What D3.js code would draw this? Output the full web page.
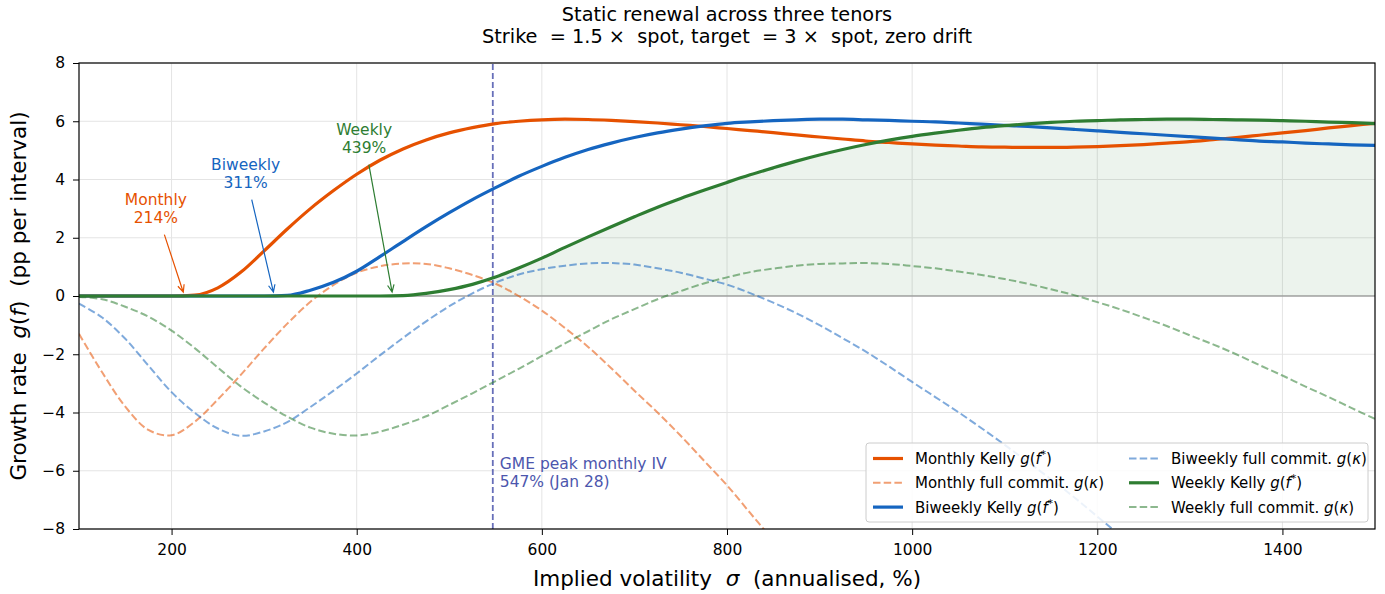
<!DOCTYPE html>
<html>
<head>
<meta charset="utf-8">
<title>Static renewal across three tenors</title>
<script src="https://cdn.jsdelivr.net/npm/d3@7/dist/d3.min.js"></script>
<style>
  body { margin: 0; background: #fff; }
  text { font-family: "DejaVu Sans", sans-serif; }
</style>
</head>
<body>
<div id="chart"></div>
<script>
// implied volatility grid (annualised, %)
const sigmaGrid = [100, 125, 150, 175, 200, 225, 250, 275, 300, 325, 350, 375, 400, 425, 450,
  475, 500, 525, 550, 575, 600, 625, 650, 675, 700, 725, 750, 775, 800, 825, 850, 875, 900,
  925, 950, 975, 1000, 1025, 1050, 1075, 1100, 1125, 1150, 1175, 1200, 1225, 1250, 1275, 1300,
  1325, 1350, 1375, 1400, 1425, 1450, 1475, 1500];

// Kelly growth g(f*), pp per interval
const monthlyKelly = [0, 0, 0, 0, 0, 0.03, 0.28, 0.82, 1.55, 2.3, 3.0, 3.62, 4.18, 4.66, 5.05,
  5.36, 5.6, 5.78, 5.92, 6.0, 6.05, 6.07, 6.06, 6.03, 5.99, 5.94, 5.88, 5.82, 5.75, 5.68,
  5.61, 5.53, 5.46, 5.39, 5.32, 5.27, 5.22, 5.18, 5.15, 5.12, 5.11, 5.10, 5.10, 5.11, 5.13,
  5.16, 5.2, 5.25, 5.3, 5.37, 5.44, 5.52, 5.6, 5.68, 5.77, 5.85, 5.93];
const biweeklyKelly = [0, 0, 0, 0, 0, 0, 0, 0, 0, 0.02, 0.2, 0.47, 0.85, 1.35, 1.87,
  2.38, 2.86, 3.31, 3.72, 4.11, 4.45, 4.76, 5.03, 5.25, 5.44, 5.6, 5.73, 5.84, 5.93, 5.98,
  6.02, 6.05, 6.07, 6.07, 6.05, 6.03, 6.0, 5.98, 5.94, 5.9, 5.86, 5.82, 5.77, 5.72, 5.67,
  5.62, 5.57, 5.52, 5.47, 5.42, 5.37, 5.32, 5.29, 5.25, 5.22, 5.19, 5.17];
const weeklyKelly = [0, 0, 0, 0, 0, 0, 0, 0, 0, 0, 0, 0, 0, 0, 0.015,
  0.09, 0.22, 0.4, 0.65, 0.96, 1.3, 1.67, 2.03, 2.38, 2.72, 3.05, 3.35, 3.63, 3.9, 4.16,
  4.4, 4.63, 4.84, 5.03, 5.2, 5.35, 5.48, 5.59, 5.69, 5.78, 5.85, 5.91, 5.96, 6.0, 6.02,
  6.05, 6.06, 6.07, 6.07, 6.06, 6.05, 6.04, 6.02, 6.0, 5.97, 5.95, 5.92];

// full-commitment growth g(kappa); these run off the bottom of the axes
const monthlyFull = [-1.3, -2.62, -3.8, -4.6, -4.78, -4.32, -3.55, -2.7, -1.8, -0.95, -0.2,
  0.38, 0.8, 1.02, 1.12, 1.1, 0.95, 0.72, 0.42, 0.0, -0.5, -1.1, -1.75, -2.48, -3.25, -4.0,
  -4.8, -5.65, -6.5, -7.45, -8.4, -9.4, -10.4];
const biweeklyFull = [-0.26, -0.74, -1.47, -2.39, -3.3, -4.01, -4.55, -4.8, -4.65, -4.33,
  -3.81, -3.25, -2.66, -2.04, -1.44, -0.87, -0.35, 0.09, 0.46, 0.74,
  0.92, 1.04, 1.12, 1.13, 1.08, 0.95, 0.8, 0.6, 0.39, 0.1,
  -0.23, -0.59, -1.0, -1.45, -1.91, -2.42, -2.95, -3.47, -3.99, -4.54,
  -5.11, -5.7, -6.29, -6.91, -7.57, -8.23, -8.9, -9.6];
const weeklyFull = [-0.03, -0.11, -0.37, -0.71, -1.19, -1.79, -2.46, -3.11, -3.66, -4.14,
  -4.52, -4.73, -4.79, -4.66, -4.42, -4.13, -3.74, -3.34, -2.92, -2.5,
  -2.06, -1.63, -1.21, -0.8, -0.45, -0.11, 0.17, 0.43, 0.64, 0.82,
  0.94, 1.04, 1.1, 1.12, 1.13, 1.1, 1.03, 0.95, 0.84, 0.72,
  0.58, 0.42, 0.23, 0.03, -0.21, -0.46, -0.74, -1.03, -1.35, -1.66,
  -2.0, -2.37, -2.73, -3.11, -3.47, -3.85, -4.22];

const tenors = ["Monthly", "Biweekly", "Weekly"];
const breakEven = [214, 311, 439];      // sigma where Kelly turns positive
const labelSigma = [183, 280, 408];     // annotation text centre
const labelG = [3.0, 4.2, 5.4];
const gmePeak = 547;

const xTicks = [200, 400, 600, 800, 1000, 1200, 1400];
const yTicks = [-8, -6, -4, -2, 0, 2, 4, 6, 8];

const width = 1385, height = 594;
const margin = {top: 63, right: 10, bottom: 65, left: 79};
const colors = {Monthly: "#e65100", Biweekly: "#1565c0", Weekly: "#2e7d32"};
const gmeColor = "#4c56ad";

const x = d3.scaleLinear().domain([100, 1500]).range([margin.left, width - margin.right]);
const y = d3.scaleLinear().domain([-8, 8]).range([height - margin.bottom, margin.top]);

const toPoints = vals => vals.map((v, i) => [sigmaGrid[i], v]);
const series = [
  {tenor: "Monthly", kelly: toPoints(monthlyKelly), full: toPoints(monthlyFull)},
  {tenor: "Biweekly", kelly: toPoints(biweeklyKelly), full: toPoints(biweeklyFull)},
  {tenor: "Weekly", kelly: toPoints(weeklyKelly), full: toPoints(weeklyFull)}
];

const svg = d3.select("#chart").append("svg")
  .attr("width", width).attr("height", height);

const defs = svg.append("defs");
defs.append("clipPath").attr("id", "plot").append("rect")
  .attr("x", x(100)).attr("y", y(8))
  .attr("width", x(1500) - x(100)).attr("height", y(-8) - y(8));
defs.append("clipPath").attr("id", "afterPeak").append("rect")
  .attr("x", x(gmePeak)).attr("y", y(8))
  .attr("width", x(1500) - x(gmePeak)).attr("height", y(-8) - y(8));

// grid
svg.append("g").selectAll("line").data(xTicks).join("line")
  .attr("x1", d => x(d)).attr("x2", d => x(d))
  .attr("y1", y(-8)).attr("y2", y(8))
  .attr("stroke", "#e4e4e4").attr("stroke-width", 1);
svg.append("g").selectAll("line").data(yTicks).join("line")
  .attr("x1", x(100)).attr("x2", x(1500))
  .attr("y1", d => y(d)).attr("y2", d => y(d))
  .attr("stroke", "#e4e4e4").attr("stroke-width", 1);

const plot = svg.append("g").attr("clip-path", "url(#plot)");

// shaded positive-growth region for the weekly tenor past the GME peak
plot.append("path")
  .datum(series[2].kelly)
  .attr("clip-path", "url(#afterPeak)")
  .attr("fill", colors.Weekly).attr("fill-opacity", 0.09)
  .attr("d", d3.area().x(d => x(d[0])).y0(y(0)).y1(d => y(d[1])).curve(d3.curveMonotoneX));

// zero line
plot.append("line")
  .attr("x1", x(100)).attr("x2", x(1500)).attr("y1", y(0)).attr("y2", y(0))
  .attr("stroke", "#808080").attr("stroke-width", 1.2);

// GME peak IV marker
plot.append("line")
  .attr("x1", x(gmePeak)).attr("x2", x(gmePeak)).attr("y1", y(-8)).attr("y2", y(8))
  .attr("stroke", gmeColor).attr("stroke-width", 1.8).attr("stroke-opacity", 0.85)
  .attr("stroke-dasharray", "6,3");

const kellyLine = d3.line().x(d => x(d[0])).y(d => y(d[1])).curve(d3.curveMonotoneX);
const fullLine = d3.line().x(d => x(d[0])).y(d => y(d[1])).curve(d3.curveCatmullRom);

series.forEach(s => {
  plot.append("path").datum(s.kelly)
    .attr("fill", "none").attr("stroke", colors[s.tenor])
    .attr("stroke-width", 3.2).attr("stroke-linecap", "square")
    .attr("d", kellyLine);
  plot.append("path").datum(s.full)
    .attr("fill", "none").attr("stroke", colors[s.tenor])
    .attr("stroke-opacity", 0.55).attr("stroke-width", 2)
    .attr("stroke-dasharray", "7.5,3.2")
    .attr("d", fullLine);
});

// break-even annotations
tenors.forEach((t, i) => {
  const cx = x(labelSigma[i]), cy = y(labelG[i]);
  const tx = x(breakEven[i]), ty = y(0);
  const c = colors[t];
  const txt = svg.append("text").attr("text-anchor", "middle")
    .attr("font-size", 15.5).attr("fill", c);
  txt.append("tspan").attr("x", cx).attr("y", cy - 4).text(t);
  txt.append("tspan").attr("x", cx).attr("y", cy + 14.5).text(breakEven[i] + "%");

  const dx = tx - cx, dy = ty - cy;
  const len = Math.hypot(dx, dy);
  const ux = dx / len, uy = dy / len;
  const sx = cx + dx * (26 / dy), sy = cy + 26;
  const ex = tx - ux * 4, ey = ty - uy * 4;
  const head = 8, ang = 0.42;
  const back = Math.atan2(-uy, -ux);
  const h1 = [ex + head * Math.cos(back + ang), ey + head * Math.sin(back + ang)];
  const h2 = [ex + head * Math.cos(back - ang), ey + head * Math.sin(back - ang)];
  svg.append("path")
    .attr("d", `M${sx},${sy}L${ex},${ey}M${h1[0]},${h1[1]}L${ex},${ey}L${h2[0]},${h2[1]}`)
    .attr("fill", "none").attr("stroke", c).attr("stroke-width", 1.2);
});

// GME label
const gme = svg.append("text").attr("font-size", 15.5).attr("fill", gmeColor);
gme.append("tspan").attr("x", x(gmePeak) + 7).attr("y", y(-5.95)).text("GME peak monthly IV");
gme.append("tspan").attr("x", x(gmePeak) + 7).attr("y", y(-5.95) + 18).text(gmePeak + "% (Jan 28)");

// axes
const xAxis = svg.append("g")
  .attr("transform", `translate(0,${y(-8)})`)
  .call(d3.axisBottom(x).tickValues(xTicks).tickSize(6).tickFormat(d3.format("d")));
xAxis.select(".domain").remove();
xAxis.selectAll("text").attr("y", 26).attr("dy", 0)
  .attr("font-size", 15.5).attr("font-family", "DejaVu Sans").attr("fill", "#000");
xAxis.selectAll("line").attr("stroke", "#000");

const yAxis = svg.append("g")
  .attr("transform", `translate(${x(100)},0)`)
  .call(d3.axisLeft(y).tickValues(yTicks).tickSize(6).tickPadding(8));
yAxis.select(".domain").remove();
yAxis.selectAll("text").attr("font-size", 15.5).attr("font-family", "DejaVu Sans").attr("fill", "#000");
yAxis.selectAll("line").attr("stroke", "#000");

// frame
svg.append("rect")
  .attr("x", x(100)).attr("y", y(8))
  .attr("width", x(1500) - x(100)).attr("height", y(-8) - y(8))
  .attr("fill", "none").attr("stroke", "#000").attr("stroke-width", 1.2);

// text with simple math parts
function mathText(sel, parts) {
  let raised = false;
  parts.forEach(p => {
    const ts = sel.append("tspan").text(p.t);
    if (p.i) ts.style("font-style", "italic");
    if (p.sup) { ts.attr("dy", -6).attr("font-size", "70%"); raised = true; }
    else if (raised) { ts.attr("dy", 6); raised = false; }
  });
}

// axis labels
const xLab = svg.append("text").attr("x", (x(100) + x(1500)) / 2).attr("y", 586)
  .attr("text-anchor", "middle").attr("font-size", 21.5).style("white-space", "pre");
mathText(xLab, [{t: "Implied volatility  "}, {t: "σ", i: true}, {t: "  (annualised, %)"}]);

const yLab = svg.append("text")
  .attr("transform", `translate(26,${(y(8) + y(-8)) / 2}) rotate(-90)`)
  .attr("text-anchor", "middle").attr("font-size", 21.5).style("white-space", "pre");
mathText(yLab, [{t: "Growth rate  "}, {t: "g", i: true}, {t: "("}, {t: "f", i: true},
  {t: ")  (pp per interval)"}]);

// title
const title = svg.append("text").attr("text-anchor", "middle").attr("font-size", 19.3)
  .style("white-space", "pre");
title.append("tspan").attr("x", (x(100) + x(1500)) / 2).attr("y", 21)
  .text("Static renewal across three tenors");
title.append("tspan").attr("x", (x(100) + x(1500)) / 2).attr("y", 43)
  .text("Strike  = 1.5 ×  spot, target  = 3 ×  spot, zero drift");

// legend
const legendItems = [];
tenors.forEach(t => {
  legendItems.push({tenor: t, kind: "kelly"});
  legendItems.push({tenor: t, kind: "full"});
});
const lg = svg.append("g");
lg.append("rect").attr("x", 866).attr("y", 443).attr("width", 502).attr("height", 79)
  .attr("rx", 3).attr("fill", "#fff").attr("fill-opacity", 0.85)
  .attr("stroke", "#cccccc").attr("stroke-width", 1);
legendItems.forEach((item, i) => {
  const col = Math.floor(i / 3), row = i % 3;
  const hx = col === 0 ? 873 : 1129;
  const ly = 458.5 + row * 24.3;
  const c = colors[item.tenor];
  const ln = lg.append("line").attr("x1", hx).attr("x2", hx + 30)
    .attr("y1", ly).attr("y2", ly).attr("stroke", c);
  if (item.kind === "kelly") ln.attr("stroke-width", 3.2);
  else ln.attr("stroke-width", 2).attr("stroke-opacity", 0.55).attr("stroke-dasharray", "7.5,3.2");
  const tt = lg.append("text").attr("x", hx + 42).attr("y", ly + 5.5)
    .attr("font-size", 15).style("white-space", "pre");
  if (item.kind === "kelly") {
    mathText(tt, [{t: item.tenor + " Kelly "}, {t: "g", i: true}, {t: "("}, {t: "f", i: true},
      {t: "*", sup: true}, {t: ")"}]);
  } else {
    mathText(tt, [{t: item.tenor + " full commit. "}, {t: "g", i: true}, {t: "("},
      {t: "κ", i: true}, {t: ")"}]);
  }
});
</script>
</body>
</html>
